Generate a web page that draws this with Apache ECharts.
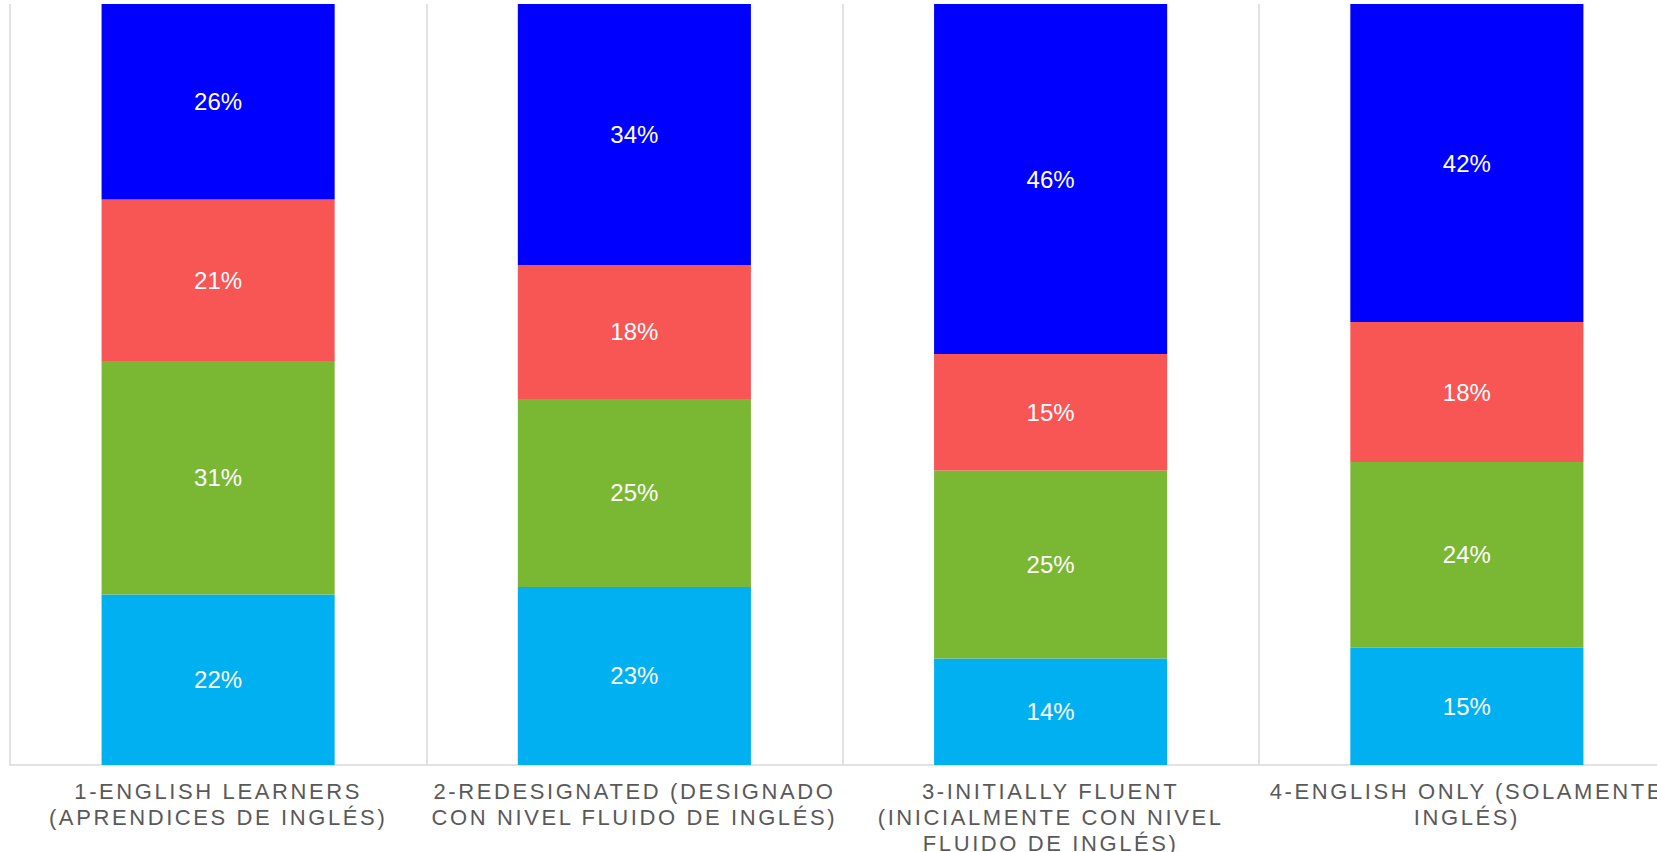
<!DOCTYPE html>
<html>
<head>
<meta charset="utf-8">
<script src="https://cdn.jsdelivr.net/npm/echarts@6/dist/echarts.min.js"></script>
<style>
  html, body { margin: 0; padding: 0; background: #fff; }
  #root { width: 1657px; height: 852px; }
  /* spaced-out category labels */
  #root text[fill="#595959"] { letter-spacing: 2.6px; }
</style>
</head>
<body>
<div id="root"></div>
<script>
  const categories = [
    '1-ENGLISH LEARNERS\n(APRENDICES DE INGLÉS)',
    '2-REDESIGNATED (DESIGNADO\nCON NIVEL FLUIDO DE INGLÉS)',
    '3-INITIALLY FLUENT\n(INICIALMENTE CON NIVEL\nFLUIDO DE INGLÉS)',
    '4-ENGLISH ONLY (SOLAMENTE\nINGLÉS)'
  ]

  // percent shares, bottom to top
  const cyanVals = [22.4, 23.4, 14.0, 15.4]
  const greenVals = [30.7, 24.7, 24.7, 24.4]
  const redVals = [21.2, 17.6, 15.3, 18.4]
  const blueVals = [25.7, 34.3, 46.0, 41.8]

  const chart = echarts.init(document.getElementById('root'), null, { renderer: 'svg' })

  const mk = (name, data, color) => ({
    name: name,
    type: 'bar',
    stack: 'a',
    data: data,
    barWidth: '56%',
    itemStyle: { color: color },
    label: {
      show: true,
      position: 'inside',
      color: '#fff',
      fontSize: 24,
      fontFamily: 'Liberation Sans, Arial, sans-serif',
      formatter: p => Math.round(p.value) + '%'
    }
  })

  const option = {
    animation: false,
    grid: { left: 10, right: -18, top: 4, bottom: 87, containLabel: false, outerBoundsMode: 'none' },
    xAxis: {
      type: 'category',
      data: categories,
      boundaryGap: true,
      axisLine: { show: true, lineStyle: { color: '#D9D9D9', width: 1.5 } },
      axisTick: { show: false },
      splitLine: { show: true, lineStyle: { color: '#D9D9D9', width: 1.5 } },
      axisLabel: {
        interval: 0,
        hideOverlap: false,
        margin: 13,
        color: '#595959',
        fontSize: 22,
        lineHeight: 26,
        fontFamily: 'Liberation Sans, Arial, sans-serif'
      }
    },
    yAxis: {
      type: 'value',
      min: 0,
      max: 100,
      show: false,
      splitLine: { show: false }
    },
    series: [
      mk('s1', cyanVals, '#00B0F0'),
      mk('s2', greenVals, '#7AB733'),
      mk('s3', redVals, '#F85555'),
      mk('s4', blueVals, '#0000FF')
    ]
  }

  chart.setOption(option)
</script>
</body>
</html>
